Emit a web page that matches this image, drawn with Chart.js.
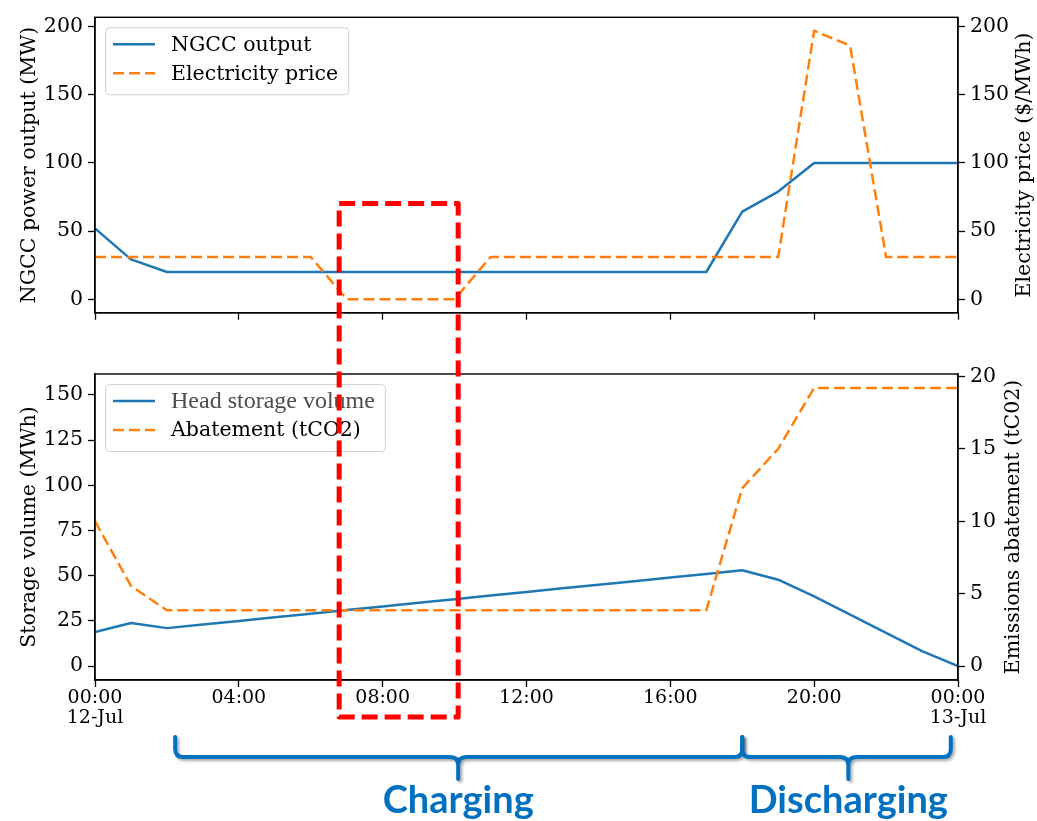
<!DOCTYPE html>
<html><head><meta charset="utf-8">
<script src="https://cdn.jsdelivr.net/npm/chart.js@4.4.1/dist/chart.umd.min.js"></script>
<style>
html,body{margin:0;padding:0;background:#fff;}
#wrap{position:relative;width:1037px;height:821px;overflow:hidden;background:#fff;}
#c1{position:absolute;left:0;top:0;}
#c2{position:absolute;left:0;top:330px;}
#ov{position:absolute;left:0;top:0;pointer-events:none;}
</style></head><body>
<div id="wrap">
<canvas id="c1" width="1037" height="330"></canvas>
<canvas id="c2" width="1037" height="491"></canvas>
<canvas id="ov" width="1037" height="821"></canvas>
</div>
<script>
// ---- data (hours after 00:00 12-Jul) ----
const hours = [0,1,2,3,4,5,6,7,8,9,10,11,12,13,14,15,16,17,18,19,20,21,22,23,24];
const ngccOutput = [52,29.3,20,20,20,20,20,20,20,20,20,20,20,20,20,20,20,20,64.3,79,100,100,100,100,100];
const electricityPrice = [31,31,31,31,31,31,31,0,0,0,0,31,31,31,31,31,31,31,31,31,197,186,31,31,31];
const headStorage = [18.8,23.8,21,23,25,27,29,31,33,35,37,39,41,43,45,47,49,51,53,47.8,38.6,28.5,18.4,8.3,0];
const abatement = [10.0,5.54,3.85,3.85,3.85,3.85,3.85,3.85,3.85,3.85,3.85,3.85,3.85,3.85,3.85,3.85,3.85,3.85,12.28,15.0,19.2,19.2,19.2,19.2,19.2];

const xTickValues = [0,4,8,12,16,20,24];
const xTickLabels = [['00:00','12-Jul'],'04:00','08:00','12:00','16:00','20:00',['00:00','13-Jul']];
const topTicks = [0,50,100,150,200];
const storageTicks = [0,25,50,75,100,125,150];
const abatementTicks = [0,5,10,15,20];

// annotation spans (hours)
const highlightWindow = [6.79, 10.1];
const chargingSpan = [2.23, 10.1, 18.0];     // start, tip, end
const dischargingSpan = [18.0, 20.95, 23.8];

const BLUE = '#1f77b4', ORANGE = '#ff7f0e';
const SERIF = 'DejaVu Serif';
const YTICK = 20.5;

const pts = arr => hours.map((h,i)=>({x:h, y:arr[i]}));
const setTicks = vals => s => { s.ticks = vals.map(v=>({value:v})); };

const frame = {
  id:'frame',
  afterDatasetsDraw(chart){
    const {ctx, chartArea:a} = chart;
    ctx.save(); ctx.strokeStyle='#000'; ctx.lineWidth=1.4;
    ctx.strokeRect(a.left, a.top, a.right-a.left, a.bottom-a.top);
    ctx.restore();
  }
};

const rightTitle = {
  id:'rightTitle',
  afterDraw(chart, args, opts){
    const s = chart.scales.y1; const ctx = chart.ctx;
    ctx.save();
    ctx.font = YTICK+'px "'+SERIF+'"';
    let w = 0; s.ticks.forEach(t=>{ w = Math.max(w, ctx.measureText(String(t.value)).width); });
    const x = s.left + 7 + 5 + w + opts.gap + 10;
    const y = (chart.chartArea.top + chart.chartArea.bottom)/2;
    ctx.translate(x, y); ctx.rotate(-Math.PI/2);
    ctx.font = '20.5px "'+SERIF+'"'; ctx.fillStyle='#000';
    ctx.textAlign='center'; ctx.textBaseline='middle';
    ctx.fillText(opts.text, 0, 0);
    ctx.restore();
  }
};

const boxLegend = {
  id:'boxLegend',
  afterDraw(chart, args, opts){
    const ctx = chart.ctx, a = chart.chartArea, ds = chart.data.datasets;
    const defFont = '20.5px "'+SERIF+'"';
    ctx.save();
    let maxW = 0;
    ds.forEach(d=>{ ctx.font = d.legendFont || defFont; maxW = Math.max(maxW, ctx.measureText(d.label).width); });
    const x0 = a.left+10, y0 = a.top+10, w = 66+maxW+10, h = 67;
    ctx.beginPath(); ctx.roundRect(x0+0.5, y0+0.5, w, h, 4);
    ctx.fillStyle='rgba(255,255,255,0.8)'; ctx.fill();
    ctx.strokeStyle='#d0d0d0'; ctx.lineWidth=1; ctx.stroke();
    ds.forEach((d,i)=>{
      const y = y0 + 17 + i*29;
      ctx.beginPath(); ctx.setLineDash(d.borderDash||[]);
      ctx.strokeStyle=d.borderColor; ctx.lineWidth=d.borderWidth;
      ctx.moveTo(x0+8, y); ctx.lineTo(x0+50, y); ctx.stroke();
      ctx.setLineDash([]);
      ctx.font = d.legendFont || defFont; ctx.fillStyle = d.legendColor || '#000';
      ctx.textAlign='left'; ctx.textBaseline='middle';
      ctx.fillText(d.label, x0+66, y+1);
    });
    ctx.restore();
  }
};

function yAxis(pos, min, max, ticks, width, title){
  const o = {
    type:'linear', position:pos, min:min, max:max,
    afterBuildTicks: setTicks(ticks),
    afterFit: s => { s.width = width; },
    ticks:{font:{family:SERIF, size:YTICK}, color:'#000', padding:5},
    grid:{drawOnChartArea:false, drawTicks:true, tickLength:7, tickColor:'#000', tickWidth:1.3},
    border:{display:true, color:'#000', width:1.4}
  };
  if (title) o.title = {display:true, text:title, color:'#000', font:{family:SERIF, size:20.5}, padding:{top:17, bottom:0}};
  return o;
}
function xAxis(showLabels, height){
  return {
    type:'linear', min:0, max:24,
    afterBuildTicks: setTicks(xTickValues),
    afterFit: s => { s.height = height; },
    ticks:{display:showLabels, font:{family:SERIF, size:19, lineHeight:1.05}, color:'#000', padding:1, maxRotation:0, autoSkip:false,
      callback: v => xTickLabels[xTickValues.indexOf(v)]},
    grid:{drawOnChartArea:false, drawTicks:true, tickLength:7, tickColor:'#000', tickWidth:1.3},
    border:{display:true, color:'#000', width:1.4}
  };
}
const common = {
  responsive:false, animation:false, devicePixelRatio:1,
  elements:{point:{radius:0}, line:{tension:0, borderCapStyle:'butt', borderJoinStyle:'round'}},
  events:[]
};

const chart1 = new Chart(document.getElementById('c1'), {
  type:'line',
  data:{datasets:[
    {label:'NGCC output', data:pts(ngccOutput), yAxisID:'y', borderColor:BLUE, borderWidth:2.5, order:1},
    {label:'Electricity price', data:pts(electricityPrice), yAxisID:'y1', borderColor:ORANGE, borderWidth:2.5, borderDash:[11,5], order:0}
  ]},
  options:Object.assign({}, common, {
    layout:{padding:{top:7, left:0, right:0, bottom:0}},
    plugins:{legend:{display:false}, tooltip:{enabled:false}, rightTitle:{text:'Electricity price ($/MWh)', gap:6}},
    scales:{
      x: xAxis(false, 17),
      y: yAxis('left', -9.85, 206.85, topTicks, 95, 'NGCC power output (MW)'),
      y1: yAxis('right', -9.85, 206.85, topTicks, 79, null)
    }
  }),
  plugins:[frame, boxLegend, rightTitle]
});

const chart2 = new Chart(document.getElementById('c2'), {
  type:'line',
  data:{datasets:[
    {label:'Head storage volume', data:pts(headStorage), yAxisID:'y', borderColor:BLUE, borderWidth:2.5, order:1,
     legendFont:'24px "Liberation Serif"', legendColor:'#4d4d4d'},
    {label:'Abatement (tCO2)', data:pts(abatement), yAxisID:'y1', borderColor:ORANGE, borderWidth:2.5, borderDash:[11,5], order:0}
  ]},
  options:Object.assign({}, common, {
    layout:{padding:{top:44, left:0, right:0, bottom:0}},
    plugins:{legend:{display:false}, tooltip:{enabled:false}, rightTitle:{text:'Emissions abatement (tC02)', gap:8}},
    scales:{
      x: xAxis(true, 141),
      y: yAxis('left', -7.7, 161.6, storageTicks, 95, 'Storage volume (MWh)'),
      y1: yAxis('right', -0.96, 20.16, abatementTicks, 79, null)
    }
  }),
  plugins:[frame, boxLegend, rightTitle]
});

// ---- overlay annotations ----
(function(){
  const ctx = document.getElementById('ov').getContext('2d');
  const off2 = 330;
  const xs = chart2.scales.x;
  const px = h => xs.getPixelForValue(h);
  const base = off2 + chart2.chartArea.bottom;

  // red dashed highlight box
  const rx1 = px(highlightWindow[0]), rx2 = px(highlightWindow[1]);
  const ry1 = chart1.scales.y.getPixelForValue(69.5) - 1;
  const ry2 = base + 37;
  ctx.save();
  ctx.strokeStyle = '#ff0000'; ctx.lineWidth = 5; ctx.lineJoin='round';
  ctx.setLineDash([16,7]);
  ctx.strokeRect(rx1, ry1, rx2-rx1, ry2-ry1);
  ctx.restore();

  // braces
  const yTop = base + 57, yMid = base + 77, yTip = base + 99, r = 8;
  function brace(span){
    const x1 = px(span[0]), xm = px(span[1]), x2 = px(span[2]);
    ctx.beginPath();
    ctx.moveTo(x1, yTop);
    ctx.lineTo(x1, yMid - r);
    ctx.quadraticCurveTo(x1, yMid, x1 + r, yMid);
    ctx.lineTo(xm - r, yMid);
    ctx.quadraticCurveTo(xm, yMid, xm, yMid + r);
    ctx.lineTo(xm, yTip);
    ctx.moveTo(xm, yMid + r);
    ctx.quadraticCurveTo(xm, yMid, xm + r, yMid);
    ctx.lineTo(x2 - r, yMid);
    ctx.quadraticCurveTo(x2, yMid, x2, yMid - r);
    ctx.lineTo(x2, yTop);
    ctx.stroke();
  }
  ctx.save();
  ctx.strokeStyle = '#0070C0'; ctx.lineWidth = 4; ctx.lineCap='round'; ctx.lineJoin='round';
  ctx.shadowColor = 'rgba(0,0,0,0.35)'; ctx.shadowOffsetX = 2; ctx.shadowOffsetY = 2; ctx.shadowBlur = 3;
  brace(chargingSpan);
  brace(dischargingSpan);
  ctx.restore();

  ctx.save();
  ctx.fillStyle = '#0070C0'; ctx.font = 'bold 38px Lato'; ctx.textAlign='center'; ctx.textBaseline='alphabetic';
  ctx.fillText('Charging', px(chargingSpan[1]), base + 133);
  ctx.fillText('Discharging', px(dischargingSpan[1]), base + 133);
  ctx.restore();
})();
</script>
</body></html>
